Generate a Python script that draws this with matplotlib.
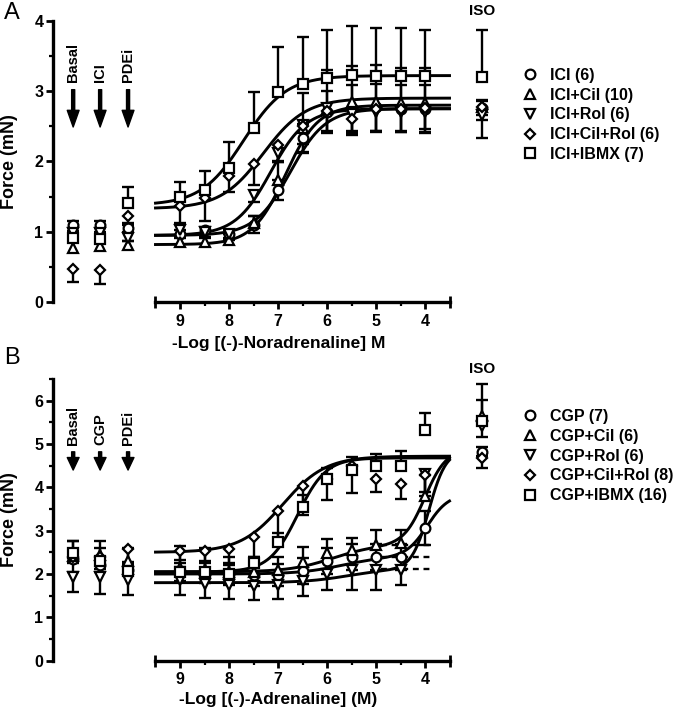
import numpy as np
import matplotlib.pyplot as plt
from matplotlib.lines import Line2D

plt.rcParams['font.family'] = ['Liberation Sans', 'DejaVu Sans']
plt.rcParams['font.weight'] = 'bold'
plt.rcParams['axes.labelweight'] = 'bold'

# -log molar agonist concentrations of the curve points
conc = [9, 8.5, 8, 7.5, 7, 6.5, 6, 5.5, 5, 4.5, 4]
x_bounds = (3.5, 9.5)
# columns left of the curves (Basal / blocker / PDEi) and the ISO column
side_x = [11.18, 10.63, 10.06]
iso_x = 2.84
markers = ['o', '^', 'v', 'D', 's']
msizes = {'o': 7, '^': 7.5, 'v': 7.5, 'D': 5.6, 's': 6.5}
bar_dir = ['both', 'up', 'down', 'down', 'up']

# ---------------- panel A : noradrenaline ----------------
a_labels = ['ICI (6)', 'ICI+Cil (10)', 'ICI+Rol (6)', 'ICI+Cil+Rol (6)', 'ICI+IBMX (7)']
a_side_labels = ['Basal', 'ICI', 'PDEi']
a_ici = [0.97, 1.02, 0.97, 1.10, 1.60, 2.33, 2.70, 2.76, 2.77, 2.75, 2.75]
a_cil = [0.86, 0.86, 0.89, 1.12, 1.74, 2.47, 2.75, 2.84, 2.85, 2.83, 2.83]
a_rol = [1.03, 1.00, 0.97, 1.52, 2.12, 2.52, 2.76, 2.68, 2.70, 2.70, 2.70]
a_cilrol = [1.37, 1.48, 1.79, 1.97, 2.24, 2.50, 2.72, 2.61, 2.74, 2.74, 2.76]
a_ibmx = [1.49, 1.60, 1.91, 2.47, 2.98, 3.10, 3.18, 3.23, 3.22, 3.22, 3.22]
a_ici_se = [0.06, 0.05, 0.06, 0.12, 0.14, 0.20, 0.30, 0.33, 0.33, 0.33, 0.33]
a_cil_se = [0.08, 0.06, 0.08, 0.10, 0.25, 0.50, 0.55, 0.52, 0.52, 0.50, 0.50]
a_rol_se = [0.07, 0.07, 0.08, 0.10, 0.12, 0.40, 0.33, 0.30, 0.28, 0.28, 0.30]
a_cilrol_se = [0.25, 0.33, 0.22, 0.30, 0.25, 0.25, 0.30, 0.20, 0.30, 0.30, 0.30]
a_ibmx_se = [0.22, 0.27, 0.36, 0.52, 0.64, 0.67, 0.69, 0.69, 0.68, 0.68, 0.65]
a_side = [[1.10, 1.10, 1.05], [0.77, 0.80, 0.82], [0.98, 0.98, 0.92],
          [0.47, 0.46, 1.22], [0.91, 0.90, 1.41]]
a_side_se = [[0.05, 0.05, 0.05], [0.08, 0.08, 0.05], [0.05, 0.05, 0.05],
             [0.18, 0.20, 0.10], [0.10, 0.10, 0.23]]
a_iso = [2.76, 2.78, 2.66, 2.77, 3.20]
a_iso_se = [0.10, 0.10, 0.32, 0.18, 0.67]
# fitted curves: bottom, span1, pEC1, slope1, span2, pEC2, slope2
a_fit = [[0.95, 1.80, 6.75, 1.2, 0, 4, 1],
         [0.82, 1.98, 6.85, 1.3, 0, 4, 1],
         [0.95, 1.80, 7.15, 1.2, 0, 4, 1],
         [1.33, 1.57, 7.30, 1.0, 0, 4, 1],
         [1.38, 1.84, 7.70, 1.0, 0, 4, 1]]

# ---------------- panel B : adrenaline ----------------
b_labels = ['CGP (7)', 'CGP+Cil (6)', 'CGP+Rol (6)', 'CGP+Cil+Rol (8)', 'CGP+IBMX (16)']
b_side_labels = ['Basal', 'CGP', 'PDEi']
b_cgp = [2.08, 2.05, 2.00, 1.98, 1.98, 2.08, 2.29, 2.40, 2.40, 2.40, 3.06]
b_cil = [2.15, 2.10, 2.05, 2.05, 2.10, 2.28, 2.48, 2.55, 2.68, 2.72, 3.79]
b_rol = [1.86, 1.78, 1.75, 1.73, 1.75, 1.85, 2.00, 2.09, 2.10, 2.10, 4.30]
b_cilrol = [2.52, 2.52, 2.58, 2.86, 3.46, 4.04, 4.20, 4.49, 4.19, 4.08, 4.29]
b_ibmx = [2.05, 2.05, 2.00, 2.25, 2.75, 3.55, 4.20, 4.40, 4.49, 4.49, 5.32]
b_cgp_se = [0.25, 0.25, 0.25, 0.25, 0.25, 0.30, 0.30, 0.30, 0.30, 0.30, 0.40]
b_cil_se = [0.50, 0.50, 0.35, 0.30, 0.30, 0.35, 0.33, 0.28, 0.34, 0.30, 0.50]
b_rol_se = [0.34, 0.33, 0.33, 0.33, 0.33, 0.35, 0.37, 0.46, 0.47, 0.35, 0.40]
b_cilrol_se = [0.36, 0.38, 0.35, 0.47, 0.66, 0.68, 0.50, 0.62, 0.30, 0.35, 0.50]
b_ibmx_se = [0.20, 0.20, 0.20, 0.15, 0.20, 0.27, 0.25, 0.30, 0.28, 0.35, 0.39]
b_side = [[2.35, 2.21, 2.10], [2.42, 2.45, 2.30], [1.94, 1.94, 1.86],
          [2.40, 2.40, 2.57], [2.48, 2.30, 2.08]]
b_side_se = [[0.10, 0.10, 0.10], [0.34, 0.32, 0.30], [0.36, 0.39, 0.34],
             [0.35, 0.35, 0.35], [0.28, 0.30, 0.20]]
b_iso = [4.82, 5.65, 5.42, 4.67, 5.52]
b_iso_se = [0.10, 0.74, 0.25, 0.23, 0.50]
b_fit = [[2.00, 0.40, 5.70, 1.0, 1.45, 3.95, 2.0],
         [2.05, 0.62, 5.90, 1.0, 2.22, 4.00, 2.0],
         [1.80, 0.31, 5.60, 1.0, 2.75, 3.92, 2.5],
         [2.50, 2.22, 6.90, 1.0, 0, 4, 1],
         [2.05, 2.63, 6.60, 1.5, 0, 4, 1]]
b_dashed = [0, 1, 2]   # first-phase plateaus drawn dashed


def hill(v, bottom, s1, p1, h1, s2, p2, h2):
    return bottom + s1 / (1 + 10 ** (h1 * (v - p1))) + s2 / (1 + 10 ** (h2 * (v - p2)))


def bars(ax, x, y, se, d):
    x = np.atleast_1d(x); y = np.atleast_1d(y); se = np.atleast_1d(se)
    lo = y - se if d in ('both', 'down') else y
    hi = y + se if d in ('both', 'up') else y
    ax.vlines(x, lo, hi, color='k', lw=1.7, zorder=2, clip_on=False)
    if d in ('both', 'up'):
        ax.plot(x, hi, ls='none', marker='_', ms=8, mew=1.7, color='k', zorder=2, clip_on=False)
    if d in ('both', 'down'):
        ax.plot(x, lo, ls='none', marker='_', ms=8, mew=1.7, color='k', zorder=2, clip_on=False)


def pts(ax, x, y, m):
    ax.plot(x, y, ls='none', marker=m, ms=msizes[m], mfc='white', mec='k', mew=1.6,
            zorder=4, clip_on=False)


def panel(ax, means, ses, sides, side_ses, isos, iso_ses, fits, labels, side_labels,
          ymax, xlabel, xpad, text_y, arrow, iso_y, legend_y, dashed=()):
    v = np.linspace(x_bounds[1], x_bounds[0], 400)
    for i in range(5):
        ax.plot(v, hill(v, *fits[i]), color='k', lw=2.1, zorder=3)
        bars(ax, conc, means[i], ses[i], bar_dir[i])
        bars(ax, side_x, sides[i], side_ses[i], bar_dir[i])
        bars(ax, iso_x, isos[i], iso_ses[i], bar_dir[i])
    for i in dashed:
        f = fits[i]
        ax.hlines(f[0] + f[1], 4.9, 3.85, color='k', lw=1.7, linestyles=(0, (2.5, 2)), zorder=3)
    for i in range(5):
        pts(ax, conc, means[i], markers[i])
        pts(ax, side_x, sides[i], markers[i])
        pts(ax, iso_x, isos[i], markers[i])

    for x, t in zip(side_x, side_labels):
        ax.text(x, text_y, t, rotation=90, ha='center', va='bottom', fontsize=10.5,
                fontweight='bold')
        ax.annotate('', xy=(x, arrow[1]), xytext=(x, arrow[0]),
                    arrowprops=dict(facecolor='k', edgecolor='k', width=2.2, headwidth=8.5,
                                    headlength=arrow[2], shrink=0))
    ax.text(iso_x, iso_y, 'ISO', ha='center', va='center', fontsize=11, fontweight='bold')

    ax.set_xlim(11.592, 2.4)
    ax.set_ylim(0, ymax)
    for s in ('top', 'right'):
        ax.spines[s].set_visible(False)
    ax.spines['bottom'].set_bounds(*x_bounds)
    ax.spines['left'].set_linewidth(2.4)
    ax.spines['bottom'].set_linewidth(2.4)
    # end caps of the detached x axis
    ax.plot(x_bounds, [0, 0], ls='none', marker='|', ms=8, mew=2, color='k', clip_on=False)
    ax.set_xticks([9, 8, 7, 6, 5, 4])
    ax.set_xticks(np.arange(4.5, 9.5, 1.0), minor=True)
    ax.set_yticks(np.arange(0, int(ymax) + 1))
    ax.set_yticks(np.arange(0.5, ymax + 0.01, 1.0), minor=True)
    ax.tick_params(which='major', width=2, length=5, labelsize=11.5, pad=2)
    ax.tick_params(axis='x', which='major', pad=3.5)
    ax.tick_params(which='minor', width=1.6, length=3)
    for lbl in ax.get_xticklabels() + ax.get_yticklabels():
        lbl.set_fontweight('bold')
    ax.set_ylabel('Force (mN)', fontsize=13, fontweight='bold')
    ax.yaxis.set_label_coords(-0.078, 0.5)
    ax.set_xlabel(xlabel, fontsize=12.5, fontweight='bold', labelpad=xpad)

    handles = [Line2D([], [], ls='none', marker=m, ms=msizes[m], mfc='white', mec='k',
                      mew=1.6) for m in markers]
    leg = ax.legend(handles, labels, loc='upper left', bbox_to_anchor=(0.773, legend_y),
                    bbox_transform=fig.transFigure, frameon=False, fontsize=11.5,
                    handlelength=1.0, handletextpad=0.75, labelspacing=0.3, borderpad=0,
                    borderaxespad=0)
    for t in leg.get_texts():
        t.set_fontweight('bold')


fig = plt.figure(figsize=(6.75, 7.13), dpi=100)
ax_a = fig.add_axes([0.0785, 0.576, 0.6673, 0.395])
ax_b = fig.add_axes([0.0785, 0.0734, 0.6673, 0.395])

panel(ax_a, [a_ici, a_cil, a_rol, a_cilrol, a_ibmx],
      [a_ici_se, a_cil_se, a_rol_se, a_cilrol_se, a_ibmx_se],
      a_side, a_side_se, a_iso, a_iso_se, a_fit, a_labels, a_side_labels,
      4, '-Log [(-)-Noradrenaline] M', 5, 3.13, (3.02, 2.49, 12), 4.14, 0.905)
panel(ax_b, [b_cgp, b_cil, b_rol, b_cilrol, b_ibmx],
      [b_cgp_se, b_cil_se, b_rol_se, b_cilrol_se, b_ibmx_se],
      b_side, b_side_se, b_iso, b_iso_se, b_fit, b_labels, b_side_labels,
      6.5, '-Log [(-)-Adrenaline] (M)', 3, 4.98, (4.82, 4.40, 9), 6.73, 0.4264,
      dashed=b_dashed)

fig.text(0.006, 0.982, 'A', fontsize=17, fontweight='normal', va='center', ha='left')
fig.text(0.006, 0.498, 'B', fontsize=17, fontweight='normal', va='center', ha='left')

fig.savefig('out.png', dpi=100)
